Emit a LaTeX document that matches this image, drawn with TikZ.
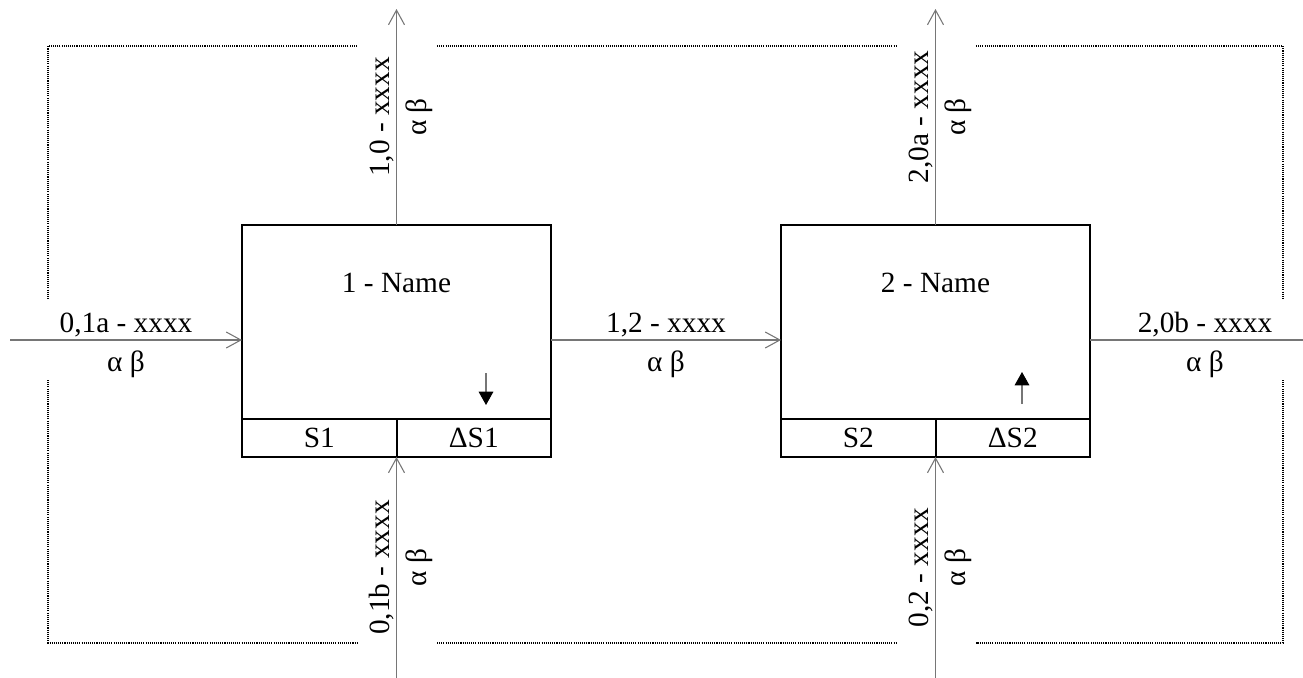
\documentclass[tikz,border=0pt]{standalone}
\usepackage{fontspec}
\setmainfont{Liberation Serif}
\usetikzlibrary{arrows.meta,positioning}
\definecolor{flowgray}{RGB}{118,118,118}

\begin{document}
\begin{tikzpicture}[x=0.75pt,y=0.75pt,yscale=-1,xscale=1,
        font=\fontsize{22}{26}\selectfont,
        unitbox/.style={draw, line width=1.5pt, minimum width=231.75pt, minimum height=145.5pt, inner sep=0pt, outer sep=0pt},
        cellbox/.style={draw, line width=1.5pt, minimum width=115.875pt, minimum height=28.5pt, inner sep=0pt, outer sep=0pt},
        flow/.style={draw=flowgray, line width=0.8pt, -{Straight Barb[length=11pt,width=12pt,line width=0.8pt]}},
        trend/.style={draw=flowgray, line width=0.8pt, -{Triangle[length=10pt,width=11pt,color=black]}},
        frame/.style={line width=1.4pt, dash pattern=on 0.8pt off 0.8pt},
        lblup/.style={above=2pt, inner sep=0pt},
        lbldown/.style={below=8pt, inner sep=0pt},
        vlblup/.style={rotate=90, anchor=south, inner sep=0pt, outer sep=2pt},
        vlbldown/.style={rotate=90, anchor=north, inner sep=0pt, outer sep=7pt}
    ]
        \useasboundingbox (0,0) rectangle (1303,678);

        %Shape: Rectangle [unit 1]
        \node[unitbox] (u1) at (396.5,322) {};
        \node (u1name) at (396.5,283) {1 - Name};
        \node[cellbox, anchor=north west] (s1) at (u1.south west) {S1};
        \node[cellbox, anchor=north east] (ds1) at (u1.south east) {ΔS1};
        %Shape: Rectangle [unit 2]
        \node[unitbox] (u2) at (935.5,322) {};
        \node (u2name) at (935.5,283) {2 - Name};
        \node[cellbox, anchor=north west] (s2) at (u2.south west) {S2};
        \node[cellbox, anchor=north east] (ds2) at (u2.south east) {ΔS2};

        %Free ends of the flows
        \coordinate (in01a) at (10,340);
        \coordinate (out20b) at (1320,340);
        \coordinate (out10) at (396.5,9);
        \coordinate (in01b) at (396.5,678);
        \coordinate (out20a) at (935.5,9);
        \coordinate (in02) at (935.5,678);

        %Straight Lines [horizontal flows]
        \draw[flow] (in01a) -- (in01a -| u1.west) node[midway, lblup] {0,1a - xxxx} node[midway, lbldown] {α β};
        \draw[flow] (in01a -| u1.east) -- (in01a -| u2.west) node[midway, lblup] {1,2 - xxxx} node[midway, lbldown] {α β};
        \draw[flow] (in01a -| u2.east) -- (out20b) node[midway, lblup] {2,0b - xxxx} node[midway, lbldown] {α β};
        %Straight Lines [vertical flows]
        \draw[flow] (u1.north) -- (out10) node[midway, vlblup] {1,0 - xxxx} node[midway, vlbldown] {α β};
        \draw[flow] (in01b) -- (s1.south east) node[midway, vlblup] {0,1b - xxxx} node[midway, vlbldown] {α β};
        \draw[flow] (u2.north) -- (out20a) node[midway, vlblup] {2,0a - xxxx} node[midway, vlbldown] {α β};
        \draw[flow] (in02) -- (s2.south east) node[midway, vlblup] {0,2 - xxxx} node[midway, vlbldown] {α β};

        %Storage trends
        \coordinate (t1from) at (486,373);
        \coordinate (t1to) at (486,405);
        \coordinate (t2from) at (1022,404);
        \coordinate (t2to) at (1022,372);
        \draw[trend] (t1from) -- (t1to);
        \draw[trend] (t2from) -- (t2to);

        %Dotted frames
        \draw[frame] (357,46) -- (48,46) -- (48,300);
        \draw[frame] (48,380) -- (48,643) -- (357,643);
        \draw[frame] (437,46) -- (896,46);
        \draw[frame] (437,643) -- (896,643);
        \draw[frame] (976,46) -- (1283,46) -- (1283,300);
        \draw[frame] (1283,380) -- (1283,643) -- (976,643);

\end{tikzpicture}
\end{document}
